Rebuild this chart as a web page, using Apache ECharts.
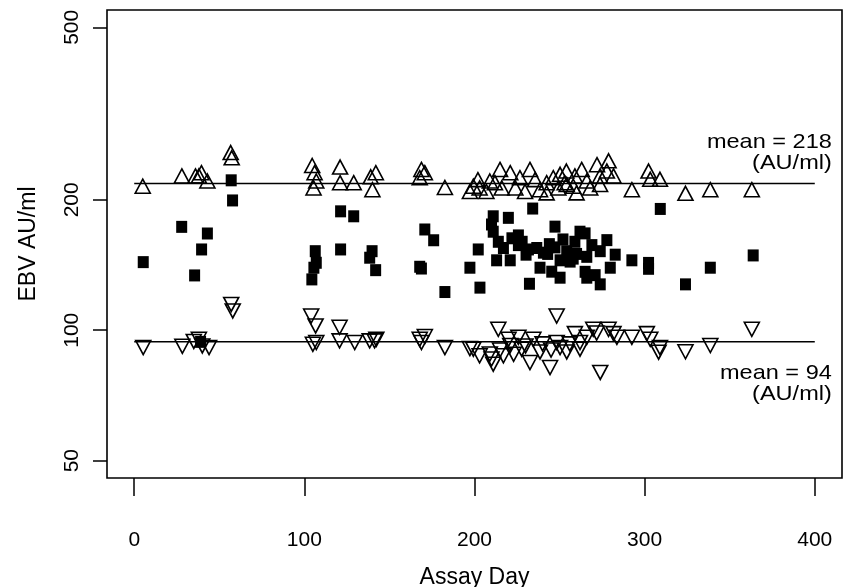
<!DOCTYPE html>
<html>
<head>
<meta charset="utf-8">
<script src="https://cdn.jsdelivr.net/npm/echarts@6/dist/echarts.min.js"></script>
<style>html,body{margin:0;padding:0;background:#fff}#c{width:852px;height:587px}</style>
</head>
<body>
<div id="c"></div>
<script>
// ---- data ----
var xTicks = [0, 100, 200, 300, 400];
var yTicks = [50, 100, 200, 500];
var upDay = [5,28,36,38,39.5,43,56.7,57.3,104.6,106,107,105.4,121,121,129,139,142,140,168.8,170.8,167.8,182.6,197.3,199.3,202,203,207,209,212,215,216,221,224,226.7,229.7,232.6,235.6,238.5,242.4,242.4,246.3,249.3,250.3,253,254,254.2,258,259,260,263,266,268,272,273.8,273.8,277.8,278.8,281.7,292.5,302.3,303.3,309,324,338.6,363];
var upVal = [215,227,227,227,231,221,257,250,240,231,221,213,238,219,219,226,231,211,235,231,225,213.5,209,215,222.6,213,209,221,219,235,213,231,213,225,209,235,222.6,211,219,207.5,225,213,229,219,233,217,215,227,207.5,235,221,213,241,227,217,233,246,227,211,233,223,223,207,211,211];
var downDay = [5.3,28.3,35,38,40,44,57,57.9,104,106.6,105,107,120.7,120.7,129.6,138.4,141.3,142.3,167.8,170.8,168.8,182.6,197.3,199.3,203,209,210,211,214,215,217,220,221,223,225.8,227.7,230,232.6,234.6,238.5,240,244.4,245,248.3,248.3,250.3,254.2,256,259,262,262,266,269.8,271.8,273.9,278.8,281.7,283.7,292.5,301.3,303.3,308.2,309,324,338.6,363];
var downVal = [91.2,91.8,94.2,95.3,92,91.2,114.7,110.8,107.8,102.3,92.8,93.7,101.6,94.5,93.7,94.5,94.5,95.3,95.3,96.7,93.7,91.2,90.7,90.4,87.3,88.1,85.8,83.5,100.5,90,87.3,95.3,92.2,88,96.3,90.4,92,84.2,95.3,89.1,93,82,90,107.8,93.7,91.2,89.1,93,98.2,93.7,90.4,96.3,100.5,98.5,79.9,100.5,98.2,96.3,96.3,98.2,95.3,89,91.2,89.2,92.2,100.5];
var sqDay = [5.3,27.9,35.5,39.6,43,39,57,57.8,104.4,105.6,107,106.4,121.3,121.3,129,138.4,139.8,141.9,167.8,168.8,170.8,176,182.6,197.3,202.2,203.2,210,211,211,213,214,217,219.9,221,222,225.8,225.8,228,230.3,231.7,232.3,234.2,236.6,238.5,240.5,243,244,245.4,247.3,247.3,250.3,250.3,252,254.2,256.2,258,259,260,262,265,265,266,266,269,270.9,273.9,273.9,277.8,279.8,282.7,292.5,302.3,302.3,309.2,324,338.6,363.8];
var sqVal = [143.6,173.2,133.8,153.6,167.2,94,221.8,199.3,131,139.4,143.1,152.2,188.1,153.6,183.2,147,152.2,137.6,140.1,138.8,170.8,161.3,122.5,139.4,153.6,125.4,175.4,183.2,168.8,145,160,154.8,181.7,145,163,165.5,157.2,160,149.4,153.6,128,190.9,154.8,139.4,151,150,158,136.5,173.4,155.3,145,132.2,162,152.2,144,146.3,160,150,168.8,167.3,136.4,147.7,132.2,157.2,134,152.2,127.6,161.4,139.4,149.4,145,143,138.6,190.5,127.6,139.4,148.8];
var meanDays = [0, 400];
var meanHigh = 218;
var meanLow = 94;
var labelHigh = ['mean = 218', '(AU/ml)'];
var labelLow = ['mean = 94', '(AU/ml)'];

function pairs(a, b) { return a.map(function (v, i) { return [v, b[i]]; }); }

var FONT = "'Liberation Sans', Arial, Helvetica, sans-serif";
var chart = echarts.init(document.getElementById('c'), null, {renderer: 'canvas'});
var option = {
  animation: false,
  backgroundColor: '#fff',
  grid: {left: 107, right: 10, top: 10, bottom: 109, show: true, borderColor: '#000', borderWidth: 1.6,
    backgroundColor: 'transparent', outerBoundsMode: 'none', containLabel: false},
  xAxis: {
    type: 'value', min: -16, max: 416,
    axisLine: {show: false, onZero: false},
    splitLine: {show: false},
    axisTick: {show: true, customValues: xTicks, length: 18, lineStyle: {color: '#000', width: 1.5}},
    axisLabel: {customValues: xTicks, margin: 52, color: '#000', fontSize: 21, fontFamily: FONT},
    name: 'Assay Day', nameLocation: 'middle', nameGap: 88,
    nameTextStyle: {color: '#000', fontSize: 23, fontFamily: FONT}
  },
  yAxis: {
    type: 'log', logBase: 10, min: 45.6, max: 548.3,
    axisLine: {show: false, onZero: false},
    splitLine: {show: false},
    minorTick: {show: false},
    axisTick: {show: true, customValues: yTicks, length: 14, lineStyle: {color: '#000', width: 1.5}},
    axisLabel: {customValues: yTicks, rotate: 90, margin: 24, color: '#000', fontSize: 21, fontFamily: FONT,
      formatter: function (v) { return String(Math.round(v)); }},
    name: 'EBV AU/ml', nameLocation: 'middle', nameGap: 67, nameRotate: 90,
    nameTextStyle: {color: '#000', fontSize: 23, fontFamily: FONT}
  },
  series: [
    {type: 'line', data: pairs(meanDays, [meanHigh, meanHigh]), symbol: 'none', lineStyle: {color: '#000', width: 1.5}, silent: true, z: 1},
    {type: 'line', data: pairs(meanDays, [meanLow, meanLow]), symbol: 'none', lineStyle: {color: '#000', width: 1.5}, silent: true, z: 1},
    {type: 'scatter', data: pairs(sqDay, sqVal), symbol: 'rect', symbolSize: [11, 12], itemStyle: {color: '#000', opacity: 1}, z: 3},
    {type: 'scatter', data: pairs(upDay, upVal), symbol: 'triangle', symbolSize: [15, 14], itemStyle: {color: 'rgba(0,0,0,0)', borderColor: '#000', borderWidth: 1.6, opacity: 1}, z: 4},
    {type: 'scatter', data: pairs(downDay, downVal), symbol: 'triangle', symbolRotate: 180, symbolSize: [15, 14], itemStyle: {color: 'rgba(0,0,0,0)', borderColor: '#000', borderWidth: 1.6, opacity: 1}, z: 4}
  ]
};
chart.setOption(option);

var pHigh = chart.convertToPixel({gridIndex: 0}, [410, meanHigh]);
var pLow = chart.convertToPixel({gridIndex: 0}, [410, meanLow]);
chart.setOption({
  graphic: [
    {type: 'text', x: pHigh[0], y: pHigh[1] - 10, scaleX: 1.12, originX: 0, originY: 0,
      style: {text: labelHigh.join('\n'), align: 'right', verticalAlign: 'bottom', fill: '#000', fontSize: 21, lineHeight: 21, fontFamily: FONT}},
    {type: 'text', x: pLow[0], y: pLow[1] + 21, scaleX: 1.12, originX: 0, originY: 0,
      style: {text: labelLow.join('\n'), align: 'right', verticalAlign: 'top', fill: '#000', fontSize: 21, lineHeight: 21, fontFamily: FONT}}
  ]
});
</script>
</body>
</html>
